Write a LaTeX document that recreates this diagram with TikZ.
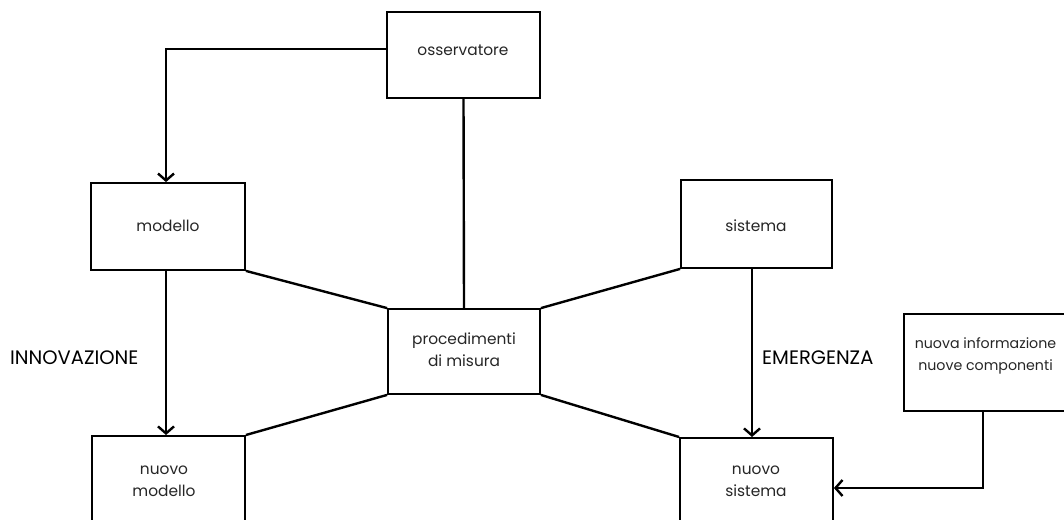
\documentclass[tikz,border=0pt]{standalone}
\usepackage{fontspec}
\setmainfont{Poppins}
\usetikzlibrary{arrows.meta}
\begin{document}
\begin{tikzpicture}[x=1pt,y=-1pt,
  box/.style={draw=black,line width=1.8pt,rectangle,inner sep=0pt},
  txt/.style={align=center,font=\fontsize{15.4}{22}\selectfont,inner sep=0pt,text=black!85},
  lab/.style={font=\fontsize{19.5}{22}\selectfont,inner sep=0pt},
  conn/.style={line width=2.4pt},
  arr/.style={line width=2.4pt,-{Straight Barb[length=7pt,width=16pt,line width=2.4pt]}}]
\useasboundingbox (0,0) rectangle (1064,519);
\clip (0,0) rectangle (1064,519);
\fill[white] (0,0) rectangle (1064,519);
% boxes
\node[box,minimum width=153pt,minimum height=86pt] (oss) at (463.5,55) {};
\node[txt] (osst) at (463,50) {osservatore};
\node[box,minimum width=154pt,minimum height=87pt] (mod) at (168,226.5) {};
\node[txt] (modt) at (168,226) {modello};
\node[box,minimum width=151pt,minimum height=88pt] (sis) at (756.5,224) {};
\node[txt] (sist) at (756,226) {sistema};
\node[box,minimum width=152pt,minimum height=85pt] (proc) at (464,351.5) {};
\node[txt] (proct) at (464,350) {procedimenti\\di misura};
\node[box,minimum width=153pt,minimum height=110pt,anchor=north] (nmod) at (168.5,435) {};
\node[txt] (nmodt) at (164,481) {nuovo\\modello};
\node[box,minimum width=153pt,minimum height=110pt,anchor=north] (nsis) at (756.5,437) {};
\node[txt] (nsist) at (756,481) {nuovo\\sistema};
\node[box,minimum width=180pt,minimum height=97pt,anchor=north west] (ninf) at (903,313) {};
\node[txt,font=\fontsize{14.2}{22}\selectfont] (ninft) at (985.5,356) {nuova informazione\\nuove componenti};
% labels
\node[lab,anchor=west] (inn) at (10,358) {INNOVAZIONE};
\node[lab,anchor=west] (eme) at (762,358) {EMERGENZA};
% connectors
\draw[arr] (oss.west |- 0,49) -| (mod.north -| 166,0);
\draw[conn] (oss.south) -- (proc.north);
\draw[conn] (mod.south east) -- (proc.north west);
\draw[conn] (sis.south west) -- (proc.north east);
\draw[conn] (proc.south west) -- (nmod.north east);
\draw[conn] (proc.south east) -- (nsis.north west);
\draw[arr] (mod.south -| 166,0) -- (nmod.north -| 166,0);
\draw[arr] (sis.south -| 752,0) -- (nsis.north -| 752,0);
\draw[arr] (ninf.south -| 983,0) |- (nsis.east |- 0,488);
\end{tikzpicture}
\end{document}
